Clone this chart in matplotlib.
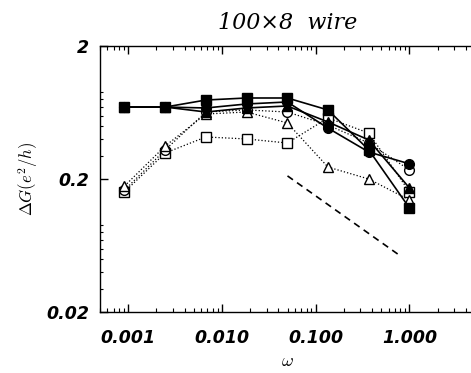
import matplotlib
matplotlib.use("Agg")
import matplotlib.pyplot as plt
from matplotlib.ticker import FixedLocator, LogLocator, NullFormatter
import numpy as np

plt.rcParams['mathtext.fontset'] = 'cm'

# frequencies (omega), roughly e^-n spaced
omega = [0.000912, 0.00248, 0.00674, 0.0183, 0.0498, 0.135, 0.368, 1.0]

# solid lines, filled markers
filled_square = [0.695, 0.695, 0.785, 0.813, 0.813, 0.661, 0.331, 0.121]
filled_circle = [0.695, 0.695, 0.684, 0.733, 0.759, 0.483, 0.319, 0.260]
filled_triangle = [0.695, 0.695, 0.638, 0.684, 0.708, 0.537, 0.393, 0.171]

# dotted lines, open markers
open_circle = [0.165, 0.331, 0.638, 0.661, 0.638, 0.509, 0.373, 0.234]
open_triangle = [0.177, 0.354, 0.616, 0.638, 0.528, 0.246, 0.200, 0.139]
open_square = [0.160, 0.314, 0.414, 0.400, 0.373, 0.575, 0.443, 0.160]

# reference slope omega^-1/2
ref_x = [0.05, 0.8]
ref_y = [0.211, 0.0528]

xticks = [0.001, 0.01, 0.1, 1.0]
xticklabels = ["0.001", "0.010", "0.100", "1.000"]
yticks = [0.02, 0.2, 2]
yticklabels = ["0.02", "0.2", "2"]

fig = plt.figure(figsize=(4.71, 3.73), dpi=100)
ax = fig.add_axes([100 / 471, 61 / 373, 375 / 471, 266 / 373])

ms = 7
for y, m in [(open_square, 's'), (open_circle, 'o'), (open_triangle, '^')]:
    ax.plot(omega, y, linestyle=':', color='black', linewidth=0.9,
            marker=m, markersize=ms, markerfacecolor='white',
            markeredgecolor='black', markeredgewidth=1.0)

for y, m in [(filled_triangle, '^'), (filled_circle, 'o'), (filled_square, 's')]:
    ax.plot(omega, y, linestyle='-', color='black', linewidth=1.2,
            marker=m, markersize=ms, markerfacecolor='black',
            markeredgecolor='black')

ax.plot(ref_x, ref_y, linestyle=(0, (4, 3)), color='black', linewidth=1.2)

ax.set_xscale('log')
ax.set_yscale('log')
ax.set_xlim(0.0005, 5)
ax.set_ylim(0.02, 2)

ax.xaxis.set_major_locator(FixedLocator(xticks))
ax.set_xticklabels(xticklabels)
ax.xaxis.set_minor_locator(LogLocator(base=10, subs=np.arange(2, 10)))
ax.xaxis.set_minor_formatter(NullFormatter())
ax.yaxis.set_major_locator(FixedLocator(yticks))
ax.set_yticklabels(yticklabels)
ax.yaxis.set_minor_locator(LogLocator(base=10, subs=np.arange(2, 10)))
ax.yaxis.set_minor_formatter(NullFormatter())

ax.spines['right'].set_visible(False)
for s in ['left', 'bottom', 'top']:
    ax.spines[s].set_linewidth(1.0)

ax.tick_params(which='both', direction='in', top=True, right=False)
ax.tick_params(which='major', length=6, width=1.0)
ax.tick_params(which='minor', length=3, width=0.8)
ax.tick_params(axis='y', which='minor', length=2)
ax.tick_params(axis='x', which='major', pad=12)
ax.tick_params(axis='y', which='major', pad=8)

for lab in ax.get_xticklabels() + ax.get_yticklabels():
    lab.set_fontfamily('DejaVu Sans')
    lab.set_fontstyle('italic')
    lab.set_fontweight('bold')
    lab.set_fontsize(12.5)

ax.set_title('100\u00d78  wire', fontsize=16, pad=12,
             fontfamily='DejaVu Serif', fontstyle='italic')
ax.set_xlabel(r'$\omega$', fontsize=13, labelpad=4)
ax.set_ylabel(r'$\Delta G(e^2/h)$', fontsize=12, labelpad=4)

fig.savefig('out.png', dpi=100)
